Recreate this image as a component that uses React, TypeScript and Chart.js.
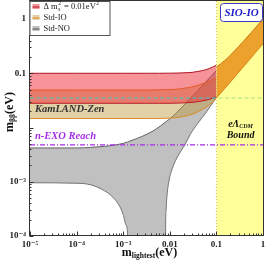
import React, { useEffect, useRef } from "react";
import { Chart, registerables } from "chart.js";

Chart.register(...registerables);

// ---------------- data ----------------
const X_MIN = 1e-5;
const X_MAX = 1;
const Y_MIN = 1e-4;
const Y_MAX = 2.15;

// Δm²_s = 0.01 eV² band and Std-IO band (m_lightest in eV)
const mBand = [1e-5, 1e-4, 1e-3, 0.003, 0.006, 0.01, 0.015, 0.02, 0.03, 0.04, 0.05, 0.07, 0.1];
const stdIOLower = [0.0147, 0.0147, 0.0147, 0.0147, 0.0147, 0.0149, 0.0153, 0.016, 0.0175, 0.0195, 0.0215, 0.026, 0.034];
const stdIOUpper = [0.049, 0.049, 0.049, 0.049, 0.0495, 0.05, 0.051, 0.053, 0.056, 0.06, 0.064, 0.072, 0.083];
const sterileLower = [0.028, 0.028, 0.028, 0.028, 0.028, 0.028, 0.0282, 0.0285, 0.029, 0.03, 0.031, 0.033, 0.037];
const sterileUpper = [0.1, 0.1, 0.1, 0.1, 0.1, 0.1005, 0.101, 0.102, 0.104, 0.108, 0.112, 0.122, 0.141];

// SIO-IO band inside the eΛCDM bound region
const mSio = [0.1, 0.15, 0.2, 0.3, 0.4, 0.5, 0.7, 1];
const sioLower = [0.035, 0.052, 0.069, 0.104, 0.139, 0.174, 0.245, 0.35];
const sioUpper = [0.13, 0.171, 0.216, 0.311, 0.408, 0.507, 0.705, 1.0];

// Std-NO band (lower edge drops to ~0 in the cancellation funnel)
const mNO = [1e-5, 1e-4, 2e-4, 4e-4, 6e-4, 8e-4, 1e-3, 1.15e-3, 1.25e-3, 1.3e-3, 2e-3, 3.4e-3, 5e-3, 8e-3, 8.1e-3, 8.3e-3, 8.6e-3, 9.5e-3, 0.0117, 0.015, 0.021, 0.028, 0.04, 0.06, 0.08, 0.1];
const stdNOUpper = [0.0042, 0.0042, 0.0043, 0.0045, 0.0047, 0.0049, 0.0051, 0.0053, 0.0054, 0.0055, 0.0063, 0.0077, 0.0093, 0.0125, 0.0126, 0.0128, 0.0132, 0.014, 0.0162, 0.02, 0.027, 0.035, 0.048, 0.07, 0.091, 0.112];
const stdNOLower = [0.00096, 0.00094, 0.00088, 0.00068, 0.00052, 0.00038, 0.00025, 0.00016, 0.0001, 1e-6, 1e-6, 1e-6, 1e-6, 1e-6, 0.0001, 0.0003, 0.0005, 0.001, 0.0019, 0.003, 0.0048, 0.0077, 0.012, 0.019, 0.027, 0.036];

// reference limits
const kamlandZenLimit = 0.035;
const nExoReach = 0.0048;
const cosmoRegion = [0.1, 1];

// ticks
const xTicks = [1e-5, 1e-4, 1e-3, 0.01, 0.1, 1];
const xTickLabels = ["10\u207B\u2075", "10\u207B\u2074", "10\u207B\u00B3", "0.01", "0.1", "1"];
const yTicks = [1e-4, 1e-3, 0.1, 1];
const yTickLabels = ["10\u207B\u2074", "10\u207B\u00B3", "0.1", "1"];

// ---------------- styles ----------------
const SERIF = "'Liberation Serif', 'DejaVu Serif', 'Times New Roman', serif";
const NO_FILL = "rgba(140,140,140,0.55)";
const NO_EDGE = "rgb(85,85,85)";
const IO_FILL = "rgba(190,150,60,0.45)";
const IO_EDGE = "rgb(225,135,30)";
const RED_FILL = "rgba(235,40,50,0.5)";
const RED_EDGE = "rgb(175,20,35)";
const SIO_FILL = "rgba(230,140,20,0.82)";
const SIO_EDGE = "rgb(205,120,20)";
const YELLOW = "rgba(255,255,70,0.55)";
const CYAN = "rgb(60,200,205)";
const PURPLE = "rgb(165,45,232)";

const pts = (xs: number[], ys: number[]) => xs.map((x, i) => ({ x, y: ys[i] }));
const fnt = (style: string, size: number) => `${style} ${size}px ${SERIF}`;

type Seg = { t: string; size: number; dy?: number; style?: string };

function drawSegs(ctx: CanvasRenderingContext2D, segs: Seg[], x: number, y: number, align: "left" | "center", color: string) {
  ctx.save();
  ctx.fillStyle = color;
  ctx.textBaseline = "middle";
  ctx.textAlign = "left";
  let w = 0;
  for (const s of segs) {
    ctx.font = fnt(s.style ?? "bold", s.size);
    w += ctx.measureText(s.t).width;
  }
  let cx = align === "center" ? x - w / 2 : x;
  for (const s of segs) {
    ctx.font = fnt(s.style ?? "bold", s.size);
    ctx.fillText(s.t, cx, y + (s.dy ?? 0));
    cx += ctx.measureText(s.t).width;
  }
  ctx.restore();
}

const decorations = {
  id: "decorations",
  afterDraw(chart: any) {
    const ctx: CanvasRenderingContext2D = chart.ctx;
    const a = chart.chartArea;
    const xs = chart.scales.x;
    const ys = chart.scales.y;

    // frame
    ctx.save();
    ctx.strokeStyle = "#333";
    ctx.lineWidth = 1;
    ctx.strokeRect(a.left - 0.5, a.top - 0.5, a.right - a.left + 1, a.bottom - a.top);
    // inward ticks
    ctx.beginPath();
    for (let e = -5; e <= 0; e++) {
      for (let k = 1; k <= 9; k++) {
        const v = k * Math.pow(10, e);
        if (v < X_MIN * 0.999 || v > X_MAX * 1.001) continue;
        const px = Math.round(xs.getPixelForValue(v)) + 0.5;
        const len = k === 1 ? 4 : 2;
        ctx.moveTo(px, a.bottom - 0.5);
        ctx.lineTo(px, a.bottom - 0.5 - len);
      }
    }
    for (let e = -4; e <= 0; e++) {
      for (let k = 1; k <= 9; k++) {
        const v = k * Math.pow(10, e);
        if (v < Y_MIN * 0.999 || v > Y_MAX) continue;
        const py = Math.round(ys.getPixelForValue(v)) + 0.5;
        const len = k === 1 ? 4 : 2;
        ctx.moveTo(a.left - 0.5, py);
        ctx.lineTo(a.left - 0.5 + len, py);
      }
    }
    ctx.stroke();
    ctx.restore();

    // in-plot labels
    drawSegs(ctx, [{ t: "KamLAND-Zen", size: 10.5, style: "italic bold" }], a.left + 5, ys.getPixelForValue(0.022), "left", "#333");
    drawSegs(ctx, [{ t: "n-EXO Reach", size: 10.5, style: "italic bold" }], a.left + 5, ys.getPixelForValue(0.0068), "left", PURPLE);
    const cx = xs.getPixelForValue(0.33);
    drawSegs(
      ctx,
      [
        { t: "e\u039B", size: 10, style: "italic bold" },
        { t: "CDM", size: 6, style: "italic bold", dy: 2.5 },
      ],
      cx,
      ys.getPixelForValue(0.0116),
      "center",
      "#111"
    );
    drawSegs(ctx, [{ t: "Bound", size: 10, style: "italic bold" }], cx, ys.getPixelForValue(0.0071), "center", "#111");

    // SIO-IO box
    ctx.save();
    const bx = a.right - 43, by = a.top + 2, bw = 42, bh = 18;
    ctx.beginPath();
    (ctx as any).roundRect(bx + 0.5, by + 0.5, bw, bh, 3);
    ctx.fillStyle = "#fff";
    ctx.fill();
    ctx.strokeStyle = "rgb(60,60,200)";
    ctx.lineWidth = 1;
    ctx.stroke();
    ctx.restore();
    drawSegs(ctx, [{ t: "SIO-IO", size: 11, style: "italic bold" }], bx + bw / 2 + 0.5, by + bh / 2 + 1, "center", "rgb(30,30,200)");

    // legend
    ctx.save();
    const lx = a.left - 0.5, ly = a.top, lw = 80, lh = 34;
    ctx.fillStyle = "#fff";
    ctx.fillRect(lx, ly, lw, lh);
    ctx.strokeStyle = "#555";
    ctx.lineWidth = 1;
    ctx.strokeRect(lx + 0.5, ly + 0.5, lw, lh);
    const rows = [
      { fill: RED_FILL, edge: RED_EDGE },
      { fill: IO_FILL, edge: IO_EDGE },
      { fill: NO_FILL, edge: NO_EDGE },
    ];
    rows.forEach((r, i) => {
      const ry = ly + 5.5 + i * 11;
      ctx.fillStyle = r.fill;
      ctx.fillRect(lx + 3, ry - 2.5, 7, 5);
      ctx.strokeStyle = r.edge;
      ctx.beginPath();
      ctx.moveTo(lx + 3, ry + 0.5);
      ctx.lineTo(lx + 10, ry + 0.5);
      ctx.stroke();
    });
    ctx.fillStyle = "#222";
    ctx.textBaseline = "middle";
    const tx = lx + 14;
    let y0 = ly + 6;
    ctx.font = fnt("", 8.5);
    ctx.fillText("\u0394 m", tx, y0);
    let px = tx + ctx.measureText("\u0394 m").width + 0.5;
    ctx.font = fnt("", 5.5);
    ctx.fillText("2", px, y0 - 3);
    ctx.fillText("s", px, y0 + 2.5);
    px += ctx.measureText("2").width + 1;
    ctx.font = fnt("", 8.5);
    ctx.fillText(" = 0.01eV", px, y0);
    px += ctx.measureText(" = 0.01eV").width + 0.5;
    ctx.font = fnt("", 5.5);
    ctx.fillText("2", px, y0 - 3);
    ctx.font = fnt("", 8.5);
    ctx.fillText("Std-IO", tx, ly + 17);
    ctx.fillText("Std-NO", tx, ly + 28);
    ctx.restore();

    // axis titles
    drawSegs(
      ctx,
      [
        { t: "m", size: 12 },
        { t: "lightest", size: 7.5, dy: 3 },
        { t: "(eV)", size: 12 },
      ],
      (a.left + a.right) / 2 + 3,
      a.bottom + 17,
      "center",
      "#111"
    );
    ctx.save();
    ctx.translate(10, 112);
    ctx.rotate(-Math.PI / 2);
    drawSegs(
      ctx,
      [
        { t: "m", size: 12 },
        { t: "\u03B2\u03B2", size: 7.5, dy: 3 },
        { t: "(eV)", size: 12 },
      ],
      0,
      0,
      "center",
      "#111"
    );
    ctx.restore();
  },
};

const mono = { pointRadius: 0, cubicInterpolationMode: "monotone" as const };

export default function App() {
  const ref = useRef<HTMLCanvasElement>(null);
  useEffect(() => {
    document.body.style.margin = "0";
    const canvas = ref.current!;
    const tickFont = { family: SERIF, size: 9, weight: "bold" as const };
    const chart = new Chart(canvas, {
      type: "line",
      data: {
        datasets: [
          { label: "Std-NO lower", data: pts(mNO, stdNOLower), borderColor: NO_EDGE, borderWidth: 0.9, fill: false, order: 20, ...mono },
          { label: "Std-NO", data: pts(mNO, stdNOUpper), borderColor: NO_EDGE, borderWidth: 0.9, backgroundColor: NO_FILL, fill: { target: 0 }, order: 19, ...mono },
          { label: "Std-IO lower", data: pts(mBand, stdIOLower), borderColor: IO_EDGE, borderWidth: 1, fill: false, order: 18, ...mono },
          { label: "Std-IO", data: pts(mBand, stdIOUpper), borderColor: IO_EDGE, borderWidth: 1, backgroundColor: IO_FILL, fill: { target: 2 }, order: 17, ...mono },
          { label: "sterile lower", data: pts(mBand, sterileLower), borderColor: RED_EDGE, borderWidth: 1, fill: false, order: 16, ...mono },
          { label: "\u0394m\u00B2s = 0.01 eV\u00B2", data: pts(mBand, sterileUpper), borderColor: RED_EDGE, borderWidth: 1, backgroundColor: RED_FILL, fill: { target: 4 }, order: 15, ...mono },
          { label: "KamLAND-Zen", data: [{ x: X_MIN, y: kamlandZenLimit }, { x: X_MAX, y: kamlandZenLimit }], borderColor: CYAN, borderWidth: 1.2, borderDash: [4, 2.5], pointRadius: 0, fill: false, order: 14 },
          { label: "eLCDM bound", data: [{ x: cosmoRegion[0], y: Y_MAX }, { x: cosmoRegion[1], y: Y_MAX }], borderWidth: 0, borderColor: "rgba(0,0,0,0)", backgroundColor: YELLOW, fill: "start", pointRadius: 0, order: 13 },
          { label: "eLCDM edge", data: [{ x: cosmoRegion[0], y: Y_MIN }, { x: cosmoRegion[0], y: Y_MAX }], borderColor: "rgba(205,190,70,0.95)", borderWidth: 1, borderDash: [1, 2], pointRadius: 0, fill: false, order: 12 },
          { label: "SIO-IO lower", data: pts(mSio, sioLower), borderColor: SIO_EDGE, borderWidth: 1, fill: false, order: 11, ...mono },
          { label: "SIO-IO", data: pts(mSio, sioUpper), borderColor: SIO_EDGE, borderWidth: 1, backgroundColor: SIO_FILL, fill: { target: 9 }, order: 10, ...mono },
          { label: "n-EXO Reach", data: [{ x: X_MIN, y: nExoReach }, { x: X_MAX, y: nExoReach }], borderColor: PURPLE, borderWidth: 1.2, borderDash: [5, 2, 1, 2], pointRadius: 0, fill: false, order: 9 },
        ] as any,
      },
      options: {
        animation: false,
        responsive: false,
        devicePixelRatio: 1,
        layout: { padding: { top: 1, right: 3, left: 0, bottom: 0 } },
        plugins: { legend: { display: false }, tooltip: { enabled: false } },
        scales: {
          x: {
            type: "logarithmic",
            min: X_MIN,
            max: X_MAX,
            grid: { display: false, drawTicks: false },
            border: { display: false },
            afterBuildTicks: (s: any) => {
              s.ticks = xTicks.map((v) => ({ value: v }));
            },
            afterFit: (s: any) => {
              s.height = 30;
              s.paddingLeft = 0;
              s.paddingRight = 0;
            },
            ticks: {
              autoSkip: false,
              maxRotation: 0,
              minRotation: 0,
              padding: 3,
              color: "#222",
              font: tickFont,
              callback: (_v: any, i: number) => xTickLabels[i],
            },
          },
          y: {
            type: "logarithmic",
            min: Y_MIN,
            max: Y_MAX,
            grid: { display: false, drawTicks: false },
            border: { display: false },
            afterBuildTicks: (s: any) => {
              s.ticks = yTicks.map((v) => ({ value: v }));
            },
            afterFit: (s: any) => {
              s.width = 30;
              s.paddingTop = 0;
              s.paddingBottom = 0;
            },
            ticks: {
              autoSkip: false,
              padding: 4,
              color: "#222",
              font: tickFont,
              callback: (_v: any, i: number) => yTickLabels[i],
            },
          },
        },
      } as any,
      plugins: [decorations],
    });
    return () => chart.destroy();
  }, []);
  return (
    <div style={{ position: "absolute", left: 0, top: 0, width: 266, height: 266 }}>
      <canvas ref={ref} width={266} height={266} style={{ width: 266, height: 266, display: "block" }} />
    </div>
  );
}
